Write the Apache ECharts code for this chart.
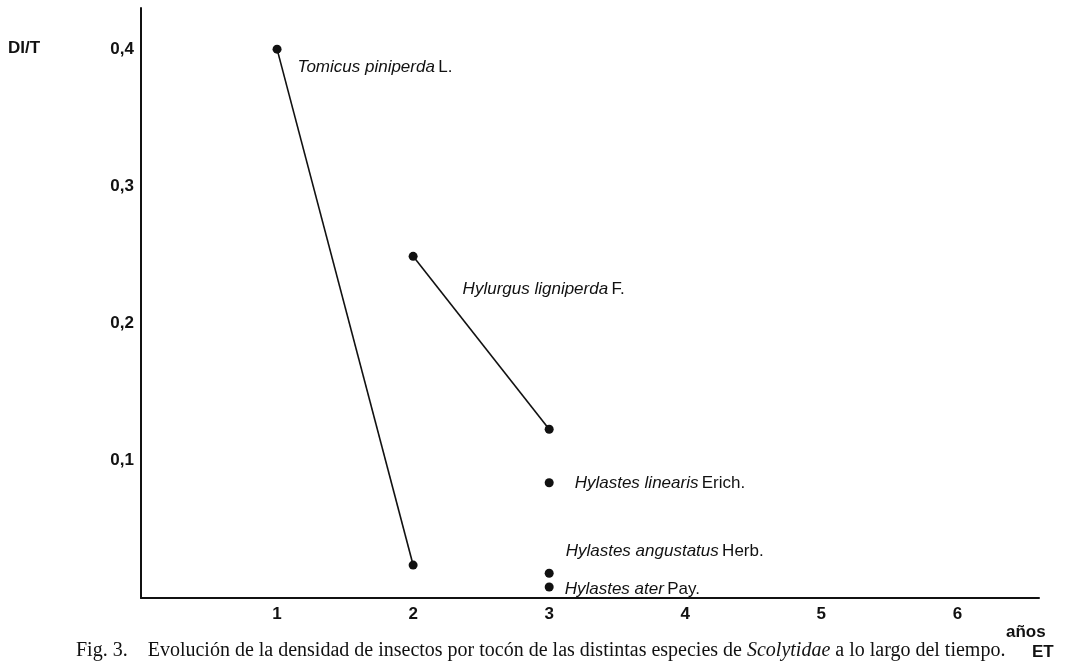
<!DOCTYPE html>
<html>
<head>
<meta charset="utf-8">
<script src="https://cdn.jsdelivr.net/npm/echarts@6/dist/echarts.min.js"></script>
<style>html,body{margin:0;padding:0;background:#fff}#c{width:1066px;height:661px}</style>
</head>
<body>
<div id="c"></div>
<script>
// Data
const tomicusX = [1, 2];
const tomicusY = [0.400, 0.024];
const hylurgusX = [2, 3];
const hylurgusY = [0.249, 0.123];
const hylastesX = [3, 3, 3];
const hylastesY = [0.084, 0.018, 0.008];
const hylastesNames = ['linearis', 'angustatus', 'ater'];
const hylastesAuthors = ['Erich.', 'Herb.', 'Pay.'];
const xTickLabels = ['1', '2', '3', '4', '5', '6'];
const yTickLabels = ['0,1', '0,2', '0,3', '0,4'];

const richLab = {
  i: { fontFamily: 'Liberation Sans', fontStyle: 'italic', fontSize: 17, color: '#111' },
  n: { fontFamily: 'Liberation Sans', fontSize: 17, color: '#111' }
};
const labOffsets = [[16, 1], [7, -22], [6, 2]];

const chart = echarts.init(document.getElementById('c'), null, { renderer: 'canvas' });
const black = '#111';
chart.setOption({
  backgroundColor: '#fff',
  animation: false,
  grid: { left: 141, right: 27, top: 8, bottom: 63, containLabel: false },
  xAxis: {
    type: 'value', min: 0, max: 6.6, interval: 1,
    splitLine: { show: false },
    axisTick: { show: false },
    axisLine: { show: true, lineStyle: { color: black, width: 2 } },
    axisLabel: {
      margin: 8, color: black, fontFamily: 'Liberation Sans', fontWeight: 'bold', fontSize: 17,
      formatter: v => { const k = Math.round(v); return (Math.abs(v - k) < 1e-6 && k >= 1 && k <= 6) ? xTickLabels[k - 1] : ''; }
    }
  },
  yAxis: {
    type: 'value', min: 0, max: 0.43, interval: 0.1,
    splitLine: { show: false },
    axisTick: { show: false },
    axisLine: { show: true, lineStyle: { color: black, width: 2 } },
    axisLabel: {
      margin: 7, color: black, fontFamily: 'Liberation Sans', fontWeight: 'bold', fontSize: 17,
      formatter: v => { const k = Math.round(v * 10); return (Math.abs(v * 10 - k) < 1e-6 && k >= 1 && k <= 4) ? yTickLabels[k - 1] : ''; }
    }
  },
  series: [
    {
      type: 'line', name: 'Tomicus',
      data: tomicusX.map((x, i) => ({
        value: [x, tomicusY[i]],
        label: i === 0 ? { show: true, position: 'right', offset: [11, 18], formatter: '{i|Tomicus piniperda} {n|L.}', rich: richLab } : { show: false }
      })),
      symbol: 'circle', symbolSize: 9,
      itemStyle: { color: black, opacity: 1 },
      lineStyle: { color: black, width: 1.6 }
    },
    {
      type: 'line', name: 'Hylurgus',
      data: hylurgusX.map((x, i) => ({
        value: [x, hylurgusY[i]],
        label: i === 0 ? { show: true, position: 'right', offset: [40, 33], formatter: '{i|Hylurgus ligniperda} {n|F.}', rich: richLab } : { show: false }
      })),
      symbol: 'circle', symbolSize: 9,
      itemStyle: { color: black, opacity: 1 },
      lineStyle: { color: black, width: 1.6 }
    },
    {
      type: 'scatter', name: 'Hylastes',
      data: hylastesX.map((x, i) => ({
        value: [x, hylastesY[i]],
        label: { show: true, position: 'right', offset: labOffsets[i], opacity: 1,
          formatter: '{i|Hylastes ' + hylastesNames[i] + '} {n|' + hylastesAuthors[i] + '}', rich: richLab }
      })),
      symbol: 'circle', symbolSize: 9,
      itemStyle: { color: black, opacity: 1 }
    }
  ],
  graphic: [
    { type: 'text', left: 8, top: 40, style: { text: 'DI/T', fontFamily: 'Liberation Sans', fontWeight: 'bold', fontSize: 17, fill: black } },
    { type: 'text', left: 1006, top: 624, style: { text: 'años', fontFamily: 'Liberation Sans', fontWeight: 'bold', fontSize: 17, fill: black } },
    { type: 'text', left: 1032, top: 644, style: { text: 'ET', fontFamily: 'Liberation Sans', fontWeight: 'bold', fontSize: 17, fill: black } },
    { type: 'text', left: 76, top: 641, style: {
      text: '{n|Fig. 3.    Evolución de la densidad de insectos por tocón de las distintas especies de }{i|Scolytidae}{n| a lo largo del tiempo.}',
      rich: {
        n: { fontFamily: 'Liberation Serif', fontSize: 20, fill: black, color: black },
        i: { fontFamily: 'Liberation Serif', fontStyle: 'italic', fontSize: 20, fill: black, color: black }
      }
    } }
  ]
});
</script>
</body>
</html>
